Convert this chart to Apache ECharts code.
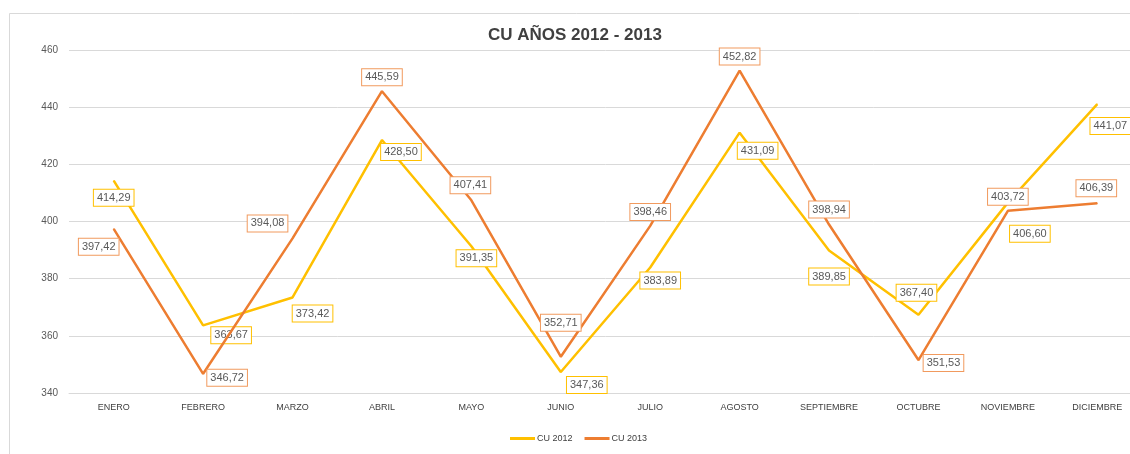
<!DOCTYPE html>
<html>
<head>
<meta charset="utf-8">
<script src="https://cdn.jsdelivr.net/npm/echarts@6/dist/echarts.min.js"></script>
<style>
  html, body { margin: 0; padding: 0; background: #fff; overflow: hidden; width: 1130px; height: 454px; }
  #chart { width: 1142px; height: 454px; }
</style>
</head>
<body>
<div id="chart"></div>
<script>
const months = ['ENERO', 'FEBRERO', 'MARZO', 'ABRIL', 'MAYO', 'JUNIO', 'JULIO', 'AGOSTO', 'SEPTIEMBRE', 'OCTUBRE', 'NOVIEMBRE', 'DICIEMBRE'];
const cu2012 = [414.29, 363.67, 373.42, 428.50, 391.35, 347.36, 383.89, 431.09, 389.85, 367.40, 406.60, 441.07];
const cu2013 = [397.42, 346.72, 394.08, 445.59, 407.41, 352.71, 398.46, 452.82, 398.94, 351.53, 403.72, 406.39];

// label offsets (px) from each point, as placed in the original
const off2012 = [[0, 17], [28, 10], [20, 16], [19, 12], [5, 12], [26, 13], [10, 13], [18, 18], [0, 26], [-2, -22], [22, 31], [13, 22]];
const off2013 = [[-15, 18], [24, 4], [-25, -15], [0, -14], [-1, -15], [0, -34], [0, -14], [0, -14], [0, -15], [25, 3], [0, -14], [-1, -15]];

const fmt = v => v.toFixed(2).replace('.', ',');

const makeData = (vals, offs) => vals.map((v, i) => ({
    value: v,
    label: { offset: offs[i] }
}));

const labelStyle = border => ({
    show: true,
    position: 'inside',
    formatter: p => fmt(p.value),
    fontSize: 11,
    fontFamily: 'Liberation Sans, Arial, sans-serif',
    color: '#595959',
    backgroundColor: '#fff',
    borderColor: border,
    borderWidth: 1,
    padding: [3, 3, 2, 3]
});

const chart = echarts.init(document.getElementById('chart'));
chart.setOption({
    backgroundColor: '#fff',
    textStyle: { fontFamily: 'Liberation Sans, Arial, sans-serif' },
    graphic: [{
        type: 'rect',
        shape: { x: 9.5, y: 13.5, width: 1140, height: 460 },
        style: { fill: 'none', stroke: '#d9d9d9', lineWidth: 1 },
        silent: true
    }],
    title: {
        text: 'CU AÑOS 2012 - 2013',
        left: 483,
        top: 22,
        textStyle: { fontSize: 17, fontWeight: 'bold', color: '#404040', fontFamily: 'Liberation Sans, Arial, sans-serif' }
    },
    legend: {
        bottom: 6,
        left: 505,
        itemWidth: 25,
        itemHeight: 3,
        itemGap: 12,
        textStyle: { fontSize: 9, color: '#404040', padding: [0, 0, 0, -3] },
        data: [{ name: 'CU 2012', icon: 'rect' }, { name: 'CU 2013', icon: 'rect' }]
    },
    grid: { left: 69, top: 50, right: 0, bottom: 61 },
    xAxis: {
        type: 'category',
        data: months,
        boundaryGap: true,
        axisLine: { lineStyle: { color: '#d9d9d9' } },
        axisTick: { show: false },
        axisLabel: { fontSize: 9, color: '#404040', margin: 10 }
    },
    yAxis: {
        type: 'value',
        min: 340,
        max: 460,
        interval: 20,
        axisLine: { show: false },
        axisTick: { show: false },
        axisLabel: { fontSize: 10, color: '#595959', margin: 11 },
        splitLine: { lineStyle: { color: '#d9d9d9', width: 1 } }
    },
    series: [
        {
            name: 'CU 2012',
            type: 'line',
            data: makeData(cu2012, off2012),
            symbol: 'circle',
            symbolSize: 1,
            showSymbol: true,
            color: '#FFC000',
            lineStyle: { width: 2.5, color: '#FFC000' },
            label: labelStyle('#FFC000'),
            z: 2
        },
        {
            name: 'CU 2013',
            type: 'line',
            data: makeData(cu2013, off2013),
            symbol: 'circle',
            symbolSize: 1,
            showSymbol: true,
            color: '#ED7D31',
            lineStyle: { width: 2.5, color: '#ED7D31' },
            label: labelStyle('#F19A5E'),
            z: 3
        }
    ]
});
</script>
</body>
</html>
